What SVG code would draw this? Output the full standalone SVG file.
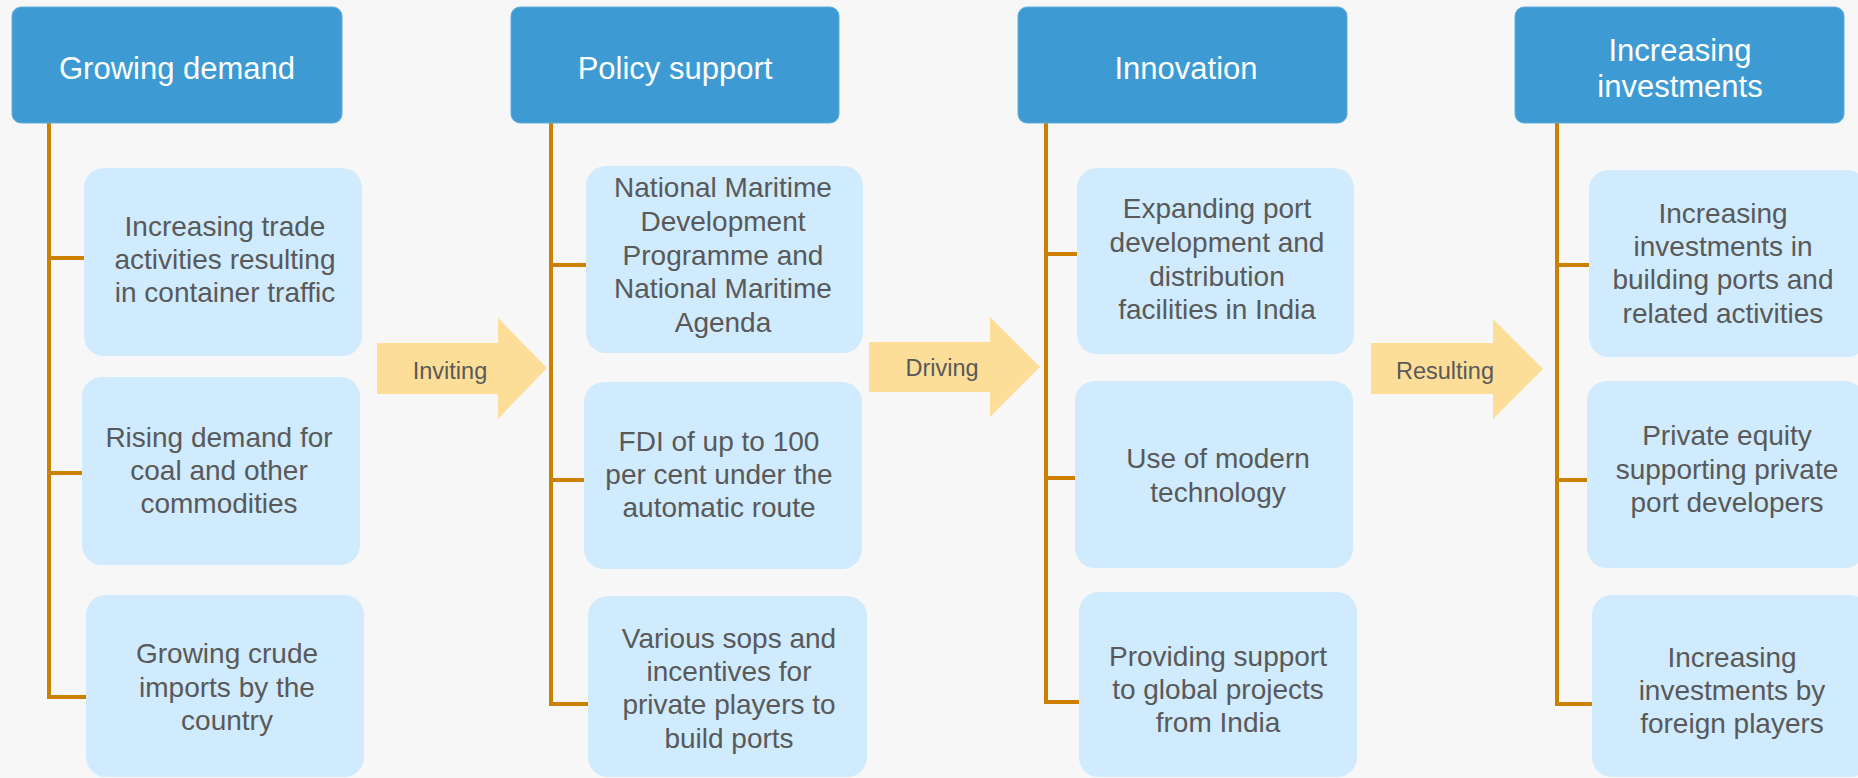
<svg xmlns="http://www.w3.org/2000/svg" width="1858" height="778" viewBox="0 0 1858 778">
<style>
.bg{fill:#F7F7F7}
.hdr{fill:#3D9AD2;stroke:#62AEDC;stroke-width:1}
.ht{font-family:"Liberation Sans",Arial,sans-serif;font-size:31px;fill:#FFFFFF;text-anchor:middle}
.box{fill:#CFEBFD}
.bt{font-family:"Liberation Sans",Arial,sans-serif;font-size:28px;fill:#595959;text-anchor:middle}
.conn{fill:none;stroke:#CC8000;stroke-width:4;stroke-linejoin:miter}
.arr{fill:#FCDE98}
.at{font-family:"Liberation Sans",Arial,sans-serif;font-size:23.5px;fill:#595959;text-anchor:middle}
</style>
<rect class="bg" x="0" y="0" width="1858" height="778"/>
<g id="connectors">
<path class="conn" d="M49,123 V697 H87 M49,258 H85 M49,473 H83"/>
<path class="conn" d="M551,123 V704 H589 M551,265 H587 M551,480 H585"/>
<path class="conn" d="M1046,123 V702 H1080 M1046,254 H1078 M1046,478 H1076"/>
<path class="conn" d="M1557,123 V704 H1593 M1557,265 H1590 M1557,480 H1588"/>
</g>
<g id="arrow-inviting">
<polygon class="arr" points="377,343 498,343 498,318 547,368 498,419 498,394 377,394"/>
<text class="at" x="450" y="379">Inviting</text>
</g>
<g id="arrow-driving">
<polygon class="arr" points="869,342 990,342 990,317 1040,367 990,417 990,392 869,392"/>
<text class="at" x="942" y="376">Driving</text>
</g>
<g id="arrow-resulting">
<polygon class="arr" points="1371,343 1493,343 1493,319 1543,369 1493,419 1493,394 1371,394"/>
<text class="at" x="1445" y="379">Resulting</text>
</g>
<g id="h1">
<rect class="hdr" x="12" y="7" width="330" height="116" rx="9"/>
<text class="ht" x="177" y="79">Growing demand</text>
</g>
<g id="h2">
<rect class="hdr" x="511" y="7" width="328" height="116" rx="9"/>
<text class="ht" x="675" y="79">Policy support</text>
</g>
<g id="h3">
<rect class="hdr" x="1018" y="7" width="329" height="116" rx="9"/>
<text class="ht" x="1186" y="79">Innovation</text>
</g>
<g id="h4">
<rect class="hdr" x="1515" y="7" width="329" height="116" rx="9"/>
<text class="ht" x="1680" y="61">Increasing</text>
<text class="ht" x="1680" y="97">investments</text>
</g>
<g id="c1a">
<rect class="box" x="84" y="168" width="278" height="188" rx="20"/>
<text class="bt"><tspan x="225" y="236">Increasing trade</tspan><tspan x="225" y="269">activities resulting</tspan><tspan x="225" y="302">in container traffic</tspan></text>
</g>
<g id="c1b">
<rect class="box" x="82" y="377" width="278" height="188" rx="20"/>
<text class="bt"><tspan x="219" y="447">Rising demand for</tspan><tspan x="219" y="480">coal and other</tspan><tspan x="219" y="513">commodities</tspan></text>
</g>
<g id="c1c">
<rect class="box" x="86" y="595" width="278" height="182" rx="20"/>
<text class="bt"><tspan x="227" y="663">Growing crude</tspan><tspan x="227" y="697">imports by the</tspan><tspan x="227" y="730">country</tspan></text>
</g>
<g id="c2a">
<rect class="box" x="586" y="166" width="277" height="187" rx="20"/>
<text class="bt"><tspan x="723" y="197">National Maritime</tspan><tspan x="723" y="231">Development</tspan><tspan x="723" y="265">Programme and</tspan><tspan x="723" y="298">National Maritime</tspan><tspan x="723" y="332">Agenda</tspan></text>
</g>
<g id="c2b">
<rect class="box" x="584" y="382" width="278" height="187" rx="20"/>
<text class="bt"><tspan x="719" y="451">FDI of up to 100</tspan><tspan x="719" y="484">per cent under the</tspan><tspan x="719" y="517">automatic route</tspan></text>
</g>
<g id="c2c">
<rect class="box" x="588" y="596" width="279" height="181" rx="20"/>
<text class="bt"><tspan x="729" y="648">Various sops and</tspan><tspan x="729" y="681">incentives for</tspan><tspan x="729" y="714">private players to</tspan><tspan x="729" y="748">build ports</tspan></text>
</g>
<g id="c3a">
<rect class="box" x="1077" y="168" width="277" height="186" rx="20"/>
<text class="bt"><tspan x="1217" y="218">Expanding port</tspan><tspan x="1217" y="252">development and</tspan><tspan x="1217" y="286">distribution</tspan><tspan x="1217" y="319">facilities in India</tspan></text>
</g>
<g id="c3b">
<rect class="box" x="1075" y="381" width="278" height="187" rx="20"/>
<text class="bt"><tspan x="1218" y="468">Use of modern</tspan><tspan x="1218" y="502">technology</tspan></text>
</g>
<g id="c3c">
<rect class="box" x="1079" y="592" width="278" height="185" rx="20"/>
<text class="bt"><tspan x="1218" y="666">Providing support</tspan><tspan x="1218" y="699">to global projects</tspan><tspan x="1218" y="732">from India</tspan></text>
</g>
<g id="c4a">
<rect class="box" x="1589" y="170" width="278" height="187" rx="20"/>
<text class="bt"><tspan x="1723" y="223">Increasing</tspan><tspan x="1723" y="256">investments in</tspan><tspan x="1723" y="289">building ports and</tspan><tspan x="1723" y="323">related activities</tspan></text>
</g>
<g id="c4b">
<rect class="box" x="1587" y="381" width="278" height="187" rx="20"/>
<text class="bt"><tspan x="1727" y="445">Private equity</tspan><tspan x="1727" y="479">supporting private</tspan><tspan x="1727" y="512">port developers</tspan></text>
</g>
<g id="c4c">
<rect class="box" x="1592" y="595" width="278" height="182" rx="20"/>
<text class="bt"><tspan x="1732" y="667">Increasing</tspan><tspan x="1732" y="700">investments by</tspan><tspan x="1732" y="733">foreign players</tspan></text>
</g>
</svg>
